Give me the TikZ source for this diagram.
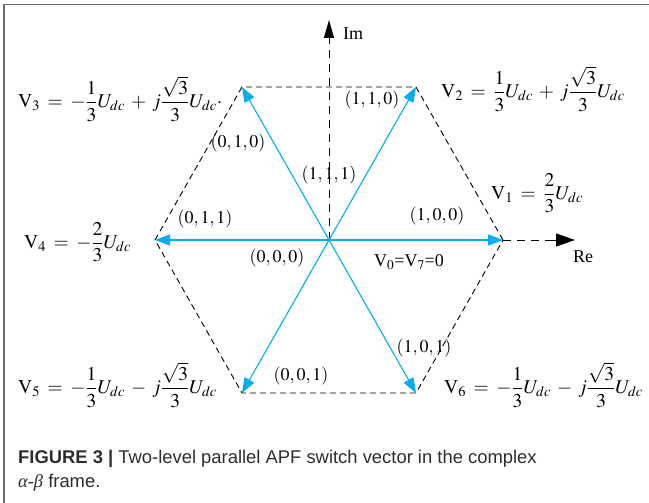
\documentclass[tikz,border=0pt]{standalone}
\usepackage{mathptmx}
\usepackage{amsmath}
\usepackage{fontspec}
\setmainfont{Liberation Serif}
\newfontfamily\capfont{Liberation Sans}
\newfontfamily\greekfont{Liberation Serif}
\usetikzlibrary{arrows.meta}
\definecolor{vcyan}{RGB}{0,174,239}
\definecolor{framegray}{RGB}{110,110,110}
\definecolor{capgray}{RGB}{45,45,45}
\tikzset{
  vec/.style={vcyan, line width=1.1pt, -{Triangle[length=15pt,width=11pt]}},
  hexline/.style={black, line width=0.9pt, dash pattern=on 6pt off 4pt},
  axisline/.style={black, line width=1pt, dash pattern=on 8pt off 6pt},
  lbl/.style={inner sep=0pt, font=\fontsize{18}{21}\selectfont},
  eqn/.style={inner sep=0pt, font=\fontsize{19.5}{23}\selectfont},
  captxt/.style={inner sep=0pt, anchor=base west, text=capgray, font=\capfont\fontsize{18.4}{22}\selectfont}
}
\newcommand{\eqsp}{\mskip 3mu}
\begin{document}
\begin{tikzpicture}[x=1pt,y=-1pt]
\useasboundingbox (0,0) rectangle (649,503);
% frame
\draw[framegray, line width=1.4pt] (4,503) -- (4,4.5) -- (649,4.5);
% points
\coordinate (O) at (329,240);
\coordinate (R) at (503,240);
\coordinate (L) at (155,240);
\coordinate (TR) at (416,87);
\coordinate (TL) at (242,87);
\coordinate (BL) at (242,393);
\coordinate (BR) at (416,393);
\coordinate (ImEnd) at (329,20);
\coordinate (ReEnd) at (575,240);
% hexagon
\draw[hexline] (R) -- (TR) -- (TL) -- (L) -- (BL) -- (BR) -- cycle;
% axes
\draw[axisline] (O) -- (329,38);
\draw[black, line width=1pt, -{Triangle[length=18pt,width=10pt]}] (329,36) -- (ImEnd);
\draw[axisline] (R) -- (554,240);
\draw[black, line width=1pt, -{Triangle[length=19pt,width=13pt]}] (553,240) -- (ReEnd);
\node[lbl, anchor=west] (Im) at (343,34) {Im};
\node[lbl, anchor=west] (Re) at (573,257) {Re};
% vectors
\draw[vec] (O) -- (R);
\draw[vec] (O) -- (TR);
\draw[vec] (O) -- (TL);
\draw[vec] (O) -- (L);
\draw[vec] (O) -- (BL);
\draw[vec] (O) -- (BR);
% switch labels
\node[lbl] (s110) at (372,100) {$(1,1,0)$};
\node[lbl] (s010) at (238,143) {$(0,1,0)$};
\node[lbl] (s111) at (329,175) {$(1,1,1)$};
\node[lbl] (s011) at (205,219) {$(0,1,1)$};
\node[lbl] (s100) at (437,216) {$(1,0,0)$};
\node[lbl] (s000) at (277,258) {$(0,0,0)$};
\node[lbl] (zero) at (409,262) {V$_0$=V$_7$=0};
\node[lbl] (s101) at (424,348) {$(1,0,1)$};
\node[lbl] (s001) at (301,376) {$(0,0,1)$};
% equations
\node[eqn, anchor=west] (V3) at (18,99) {$\mathrm{V}_3\eqsp=\eqsp-\dfrac{1}{3}U_{dc}\eqsp+\eqsp j\dfrac{\sqrt{3}}{3}U_{dc}{\cdot}$};
\node[eqn, anchor=west] (V2) at (441,89) {$\mathrm{V}_2\eqsp=\eqsp\dfrac{1}{3}U_{dc}\eqsp+\eqsp j\dfrac{\sqrt{3}}{3}U_{dc}$};
\node[eqn, anchor=west] (V1) at (491,193) {$\mathrm{V}_1\eqsp=\eqsp\dfrac{2}{3}U_{dc}$};
\node[eqn, anchor=west] (V4) at (24,242) {$\mathrm{V}_4\eqsp=\eqsp-\dfrac{2}{3}U_{dc}$};
\node[eqn, anchor=west] (V5) at (18,385) {$\mathrm{V}_5\eqsp=\eqsp-\dfrac{1}{3}U_{dc}\eqsp-\eqsp j\dfrac{\sqrt{3}}{3}U_{dc}$};
\node[eqn, anchor=west] (V6) at (444,385) {$\mathrm{V}_6\eqsp=\eqsp-\dfrac{1}{3}U_{dc}\eqsp-\eqsp j\dfrac{\sqrt{3}}{3}U_{dc}$};
% caption
\node[captxt] (cap1) at (18,463) {\textbf{FIGURE 3 |} Two-level parallel APF switch vector in the complex};
\node[captxt] (cap2) at (18,487) {{\greekfont\itshape α-β} frame.};
\end{tikzpicture}
\end{document}
